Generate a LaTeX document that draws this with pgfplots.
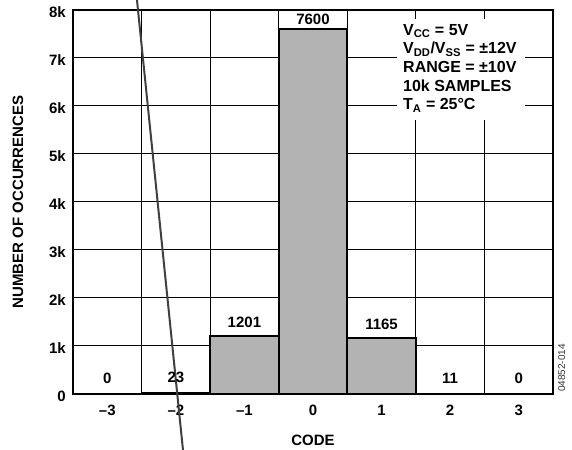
\documentclass[border=0pt]{standalone}
\usepackage{fontspec}
\setmainfont{Liberation Sans}
\usepackage{pgfplots}
\usepackage{pgfplotstable}
\pgfplotsset{compat=1.18}

\definecolor{barfill}{RGB}{179,179,179}
\definecolor{penline}{RGB}{64,64,64}

% code histogram, 10k samples; off = gap (bp) between bar top and its label
\pgfplotstableread{
code count lab off
-3 0 0 9
-2 23 23 9
-1 1201 1201 8
0 7600 7600 4
1 1165 1165 8
2 11 11 9
3 0 0 9
}\codedata

\newcommand{\lbl}{\bfseries\fontsize{15bp}{18bp}\selectfont}

\begin{document}
\begin{tikzpicture}
\useasboundingbox (0,0) rectangle (572bp,450bp);
\begin{axis}[
  at={(73bp,56bp)}, anchor=south west,
  scale only axis, width=480bp, height=384bp,
  xmin=-3.5, xmax=3.5, ymin=0, ymax=8000,
  xtick={-3,...,3},
  xticklabels={–3,–2,–1,0,1,2,3},
  minor xtick={-2.5,-1.5,...,2.5},
  ytick={0,1000,2000,3000,4000,5000,6000,7000,8000},
  yticklabels={0,1k,2k,3k,4k,5k,6k,7k,8k},
  scaled y ticks=false,
  major tick length=0pt, minor tick length=0pt,
  ymajorgrids, xminorgrids,
  grid style={black, line width=1bp},
  minor grid style={black, line width=1bp},
  axis line style={line width=2bp},
  tick label style={font=\lbl, inner sep=0pt},
  xticklabel style={anchor=base, yshift=-21bp},
  yticklabel style={anchor=base east, xshift=-7bp, yshift=-7.3bp},
  xlabel={CODE},
  xlabel style={font=\lbl, at={(axis description cs:0.5,0)}, anchor=base, yshift=-51bp, inner sep=0pt},
  ylabel={NUMBER OF OCCURRENCES},
  ylabel style={font=\lbl, at={(axis description cs:0,0.5)}, anchor=base, yshift=50bp, inner sep=0pt},
  clip=false,
]
\addplot[ybar, bar width=1, bar shift=0pt, fill=barfill, draw=black, line width=1.8bp,
  nodes near coords, point meta=explicit symbolic,
  visualization depends on={\thisrow{off}\as\off},
  every node near coord/.append style={font=\lbl, anchor=south, inner sep=0pt, yshift=\off bp}]
  table[x=code, y=count, meta=lab] {\codedata};

% stray pen stroke across the figure
\addplot[penline, line width=2bp, forget plot] coordinates {(-2.567,8208) (-1.896,-1167)};

\fill[white] (axis cs:1.225,7812) rectangle (axis cs:3.092,5708);
\node[anchor=base west, inner sep=0pt, align=left, font=\bfseries\fontsize{16bp}{18.7bp}\selectfont]
  at (axis cs:1.3125,5917)
  {V\textsubscript{CC} = 5V\\
   V\textsubscript{DD}/V\textsubscript{SS} = ±12V\\
   RANGE = ±10V\\
   10k SAMPLES\\
   T\textsubscript{A} = 25°C};
\end{axis}
\node[rotate=90, anchor=base, inner sep=0pt, font=\fontsize{10bp}{12bp}\selectfont, text=black!80] at (565bp,82bp) {04852-014};
\end{tikzpicture}
\end{document}
